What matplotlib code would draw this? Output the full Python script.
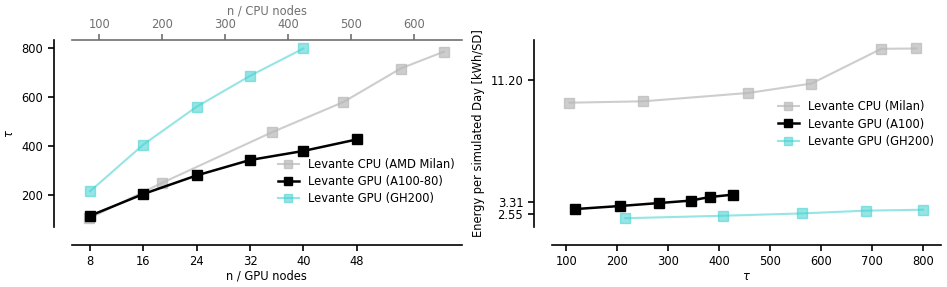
import numpy as np
import matplotlib.pyplot as plt

# left panel: throughput tau vs node count
gpu_nodes_a100 = [8, 16, 24, 32, 40, 48]
tau_a100 = [116, 205, 281, 344, 381, 428]
gpu_nodes_gh200 = [8, 16, 24, 32, 40]
tau_gh200 = [216, 407, 562, 688, 800]
cpu_nodes = [84, 200, 374, 488, 579, 648]
tau_cpu = [106, 251, 457, 581, 718, 787]

# right panel: energy per simulated day vs tau
energy_cpu = [9.74, 9.83, 10.37, 10.98, 13.23, 13.25]
energy_a100 = [2.85, 3.05, 3.24, 3.40, 3.63, 3.79]
energy_gh200 = [2.26, 2.42, 2.57, 2.75, 2.81]
energy_ticks = [2.55, 3.31, 11.20]

gpu_ticks = [8, 16, 24, 32, 40, 48]

c_cpu = '#b8b8b8'
c_gh = '#40d0d0'
top_gray = '#707070'
fs = 8.3


def style(ax):
    for s in ['top', 'right']:
        ax.spines[s].set_visible(False)
    ax.spines['left'].set_position(('outward', 13))
    ax.spines['bottom'].set_position(('outward', 13))
    ax.tick_params(labelsize=fs, length=4, width=1.2)
    ax.spines['left'].set_linewidth(1.2)
    ax.spines['bottom'].set_linewidth(1.2)


def main():
    fig = plt.figure(figsize=(9.47, 2.87), dpi=100)
    ax1 = fig.add_axes([0.0757, 0.2101, 0.4118, 0.6505])
    ax2 = fig.add_axes([0.5826, 0.2101, 0.4108, 0.6505])

    # left
    style(ax1)
    ax1t = ax1.twiny()
    for s in ['left', 'right', 'bottom']:
        ax1t.spines[s].set_visible(False)
    ax1t.spines['top'].set_color(top_gray)
    ax1t.spines['top'].set_linewidth(1.2)
    ax1t.tick_params(labelsize=fs, length=4, width=1.2, colors=top_gray, pad=2.5)
    l_cpu, = ax1t.plot(cpu_nodes, tau_cpu, marker='s', ms=7, color=c_cpu, alpha=0.7,
                       lw=1.5, label='Levante CPU (AMD Milan)')
    ax1t.set_xlabel('n / CPU nodes', fontsize=fs, color=top_gray, labelpad=2.5)
    ax1t.set_xticks([100, 200, 300, 400, 500, 600])

    l_a100, = ax1.plot(gpu_nodes_a100, tau_a100, marker='s', ms=7, color='black', lw=1.8,
                       label='Levante GPU (A100-80)', zorder=5)
    l_gh, = ax1.plot(gpu_nodes_gh200, tau_gh200, marker='s', ms=7, color=c_gh, alpha=0.55,
                     lw=1.5, label='Levante GPU (GH200)')
    ax1.set_zorder(ax1t.get_zorder() + 1)
    ax1.patch.set_visible(False)
    ax1.set_xlim(5.25, 63.75)
    ax1.set_xticks(gpu_ticks)
    ax1.set_yticks([200, 400, 600, 800])
    ax1.set_xlabel('n / GPU nodes', fontsize=fs, labelpad=1)
    ax1.set_ylabel(r'$\tau$', fontsize=fs)
    ax1.legend(handles=[l_cpu, l_a100, l_gh], loc='lower right', bbox_to_anchor=(1.0, 0.08),
               frameon=False, fontsize=fs, handlelength=1.8, borderaxespad=0.2,
               labelspacing=0.35, markerscale=0.75)

    # right
    style(ax2)
    ax2.plot(tau_cpu, energy_cpu, marker='s', ms=7, color=c_cpu, alpha=0.7, lw=1.5,
             label='Levante CPU (Milan)')
    ax2.plot(tau_a100, energy_a100, marker='s', ms=7, color='black', lw=1.8,
             label='Levante GPU (A100)')
    ax2.plot(tau_gh200, energy_gh200, marker='s', ms=7, color=c_gh, alpha=0.55, lw=1.5,
             label='Levante GPU (GH200)')
    ax2.set_xticks([100, 200, 300, 400, 500, 600, 700, 800])
    ax2.set_yticks(energy_ticks)
    ax2.set_yticklabels(['%.2f' % v for v in energy_ticks])
    ax2.set_xlabel(r'$\tau$', fontsize=fs, labelpad=1)
    ax2.set_ylabel('Energy per simulated Day [kWh/SD]', fontsize=fs)
    ax2.legend(loc='center right', bbox_to_anchor=(1.0, 0.55), frameon=False, fontsize=fs,
               handlelength=1.8, borderaxespad=0.2, labelspacing=0.35, markerscale=0.75)

    fig.savefig('out.png', dpi=100)


if __name__ == '__main__':
    main()
